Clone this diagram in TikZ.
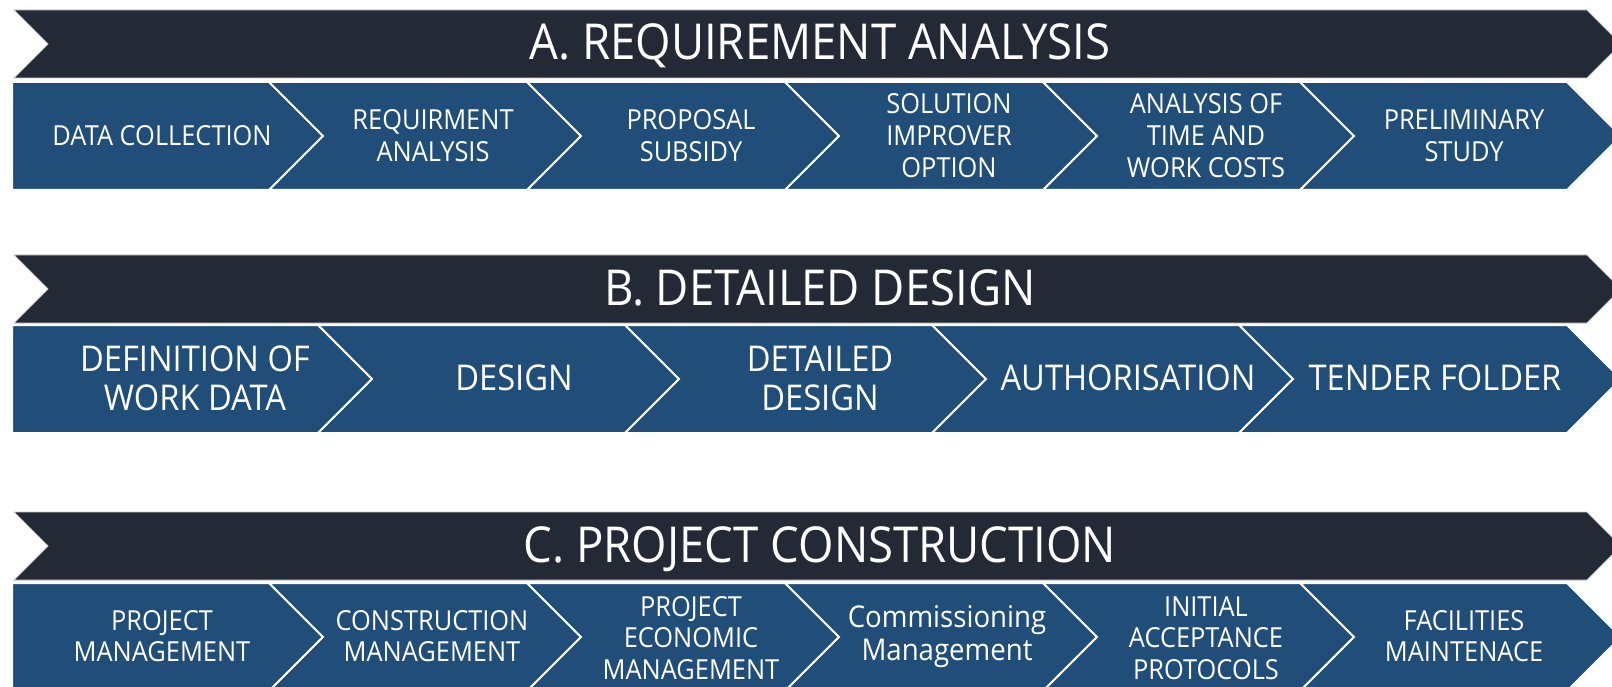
\documentclass[tikz,border=0pt]{standalone}
\usepackage{fontspec}
\setmainfont{Open Sans}[FakeStretch=0.92]
\definecolor{bannerdark}{RGB}{35, 42, 53}
\definecolor{stepblue}{RGB}{32, 78, 121}
\tikzset{
    title label/.style={
        font=\fontsize{49.5}{54}\selectfont,
        text=white,
        anchor=base,
        inner sep=0pt
    },
    step label/.style={
        text=white,
        align=center,
        inner sep=0pt
    }
}
% one chevron of a row: left x, right x, top y
\newcommand{\stepseg}[3]{%
    \filldraw[stepshape] (#1,#3) -- (#2,#3) -- ++(54,54) -- ++(-54,54)
        -- (#1,#3+108) -- ++(54,-54) -- cycle;}
\newcommand{\firstseg}[3]{%
    \filldraw[stepshape] (#1,#3) -- (#2,#3) -- ++(54,54) -- ++(-54,54)
        -- (#1,#3+108) -- cycle;}
% dark phase banner: top y
\newcommand{\phasebanner}[1]{%
    \filldraw[phaseshape] (14,#1) -- (1587,#1) -- ++(34,34) -- ++(-34,34)
        -- (14,#1+68) -- ++(34,-34) -- cycle;}

\begin{document}
\begin{tikzpicture}[x=1pt, y=-1pt]

    \tikzstyle{stepshape} = [
        fill=stepblue,
        draw=white,
        line width=2pt,
        line join=miter
    ]
    \tikzstyle{phaseshape} = [
        fill=bannerdark,
        draw=black!20,
        line width=0.8pt
    ]
    \tikzstyle{rowA} = [step label, font=\fontsize{27.6}{32}\selectfont]
    \tikzstyle{rowB} = [step label, font=\fontsize{35.5}{39}\selectfont]
    \tikzstyle{rowC} = [step label, font=\fontsize{27.6}{31.5}\selectfont]

    \useasboundingbox (0,0) rectangle (1612,687);

    % A. requirement analysis
    \phasebanner{10}
    \node[title label] (ta) at (820,60) {A. REQUIREMENT ANALYSIS};
    \firstseg{12}{269}{82}
    \stepseg{269}{527}{82}
    \stepseg{527}{785}{82}
    \stepseg{785}{1043}{82}
    \stepseg{1043}{1300}{82}
    \stepseg{1300}{1567}{82}
    \node[rowA] (a1) at (162,136) {DATA COLLECTION};
    \node[rowA] (a2) at (433,136) {REQUIRMENT\\ANALYSIS};
    \node[rowA] (a3) at (691,136) {PROPOSAL\\SUBSIDY};
    \node[rowA] (a4) at (949,136) {SOLUTION\\IMPROVER\\OPTION};
    \node[rowA] (a5) at (1206,136) {ANALYSIS OF\\TIME AND\\WORK COSTS};
    \node[rowA] (a6) at (1464,136) {PRELIMINARY\\STUDY};

    % B. detailed design
    \phasebanner{255}
    \node[title label] (tb) at (820,305) {B. DETAILED DESIGN};
    \firstseg{12}{318}{325}
    \stepseg{318}{625}{325}
    \stepseg{625}{932}{325}
    \stepseg{932}{1239}{325}
    \stepseg{1239}{1567}{325}
    \node[rowB] (b1) at (195,378) {DEFINITION OF\\WORK DATA};
    \node[rowB] (b2) at (514,378) {DESIGN};
    \node[rowB] (b3) at (820,378) {DETAILED\\DESIGN};
    \node[rowB] (b4) at (1128,378) {AUTHORISATION};
    \node[rowB] (b5) at (1435,378) {TENDER FOLDER};

    % C. project construction
    \phasebanner{512}
    \node[title label] (tc) at (820,562) {C. PROJECT CONSTRUCTION};
    \firstseg{12}{269}{583}
    \stepseg{269}{527}{583}
    \stepseg{527}{785}{583}
    \stepseg{785}{1043}{583}
    \stepseg{1043}{1300}{583}
    \stepseg{1300}{1567}{583}
    \node[rowC] (c1) at (162,636) {PROJECT\\MANAGEMENT};
    \node[rowC] (c2) at (432,636) {CONSTRUCTION\\MANAGEMENT};
    \node[rowC] (c3) at (691,638) {PROJECT\\ECONOMIC\\MANAGEMENT};
    \node[rowC, font=\fontsize{30}{33}\selectfont] (c4) at (947,637) {Commissioning\\Management};
    \node[rowC] (c5) at (1206,638) {INITIAL\\ACCEPTANCE\\PROTOCOLS};
    \node[rowC] (c6) at (1464,636) {FACILITIES\\MAINTENACE};

\end{tikzpicture}
\end{document}
